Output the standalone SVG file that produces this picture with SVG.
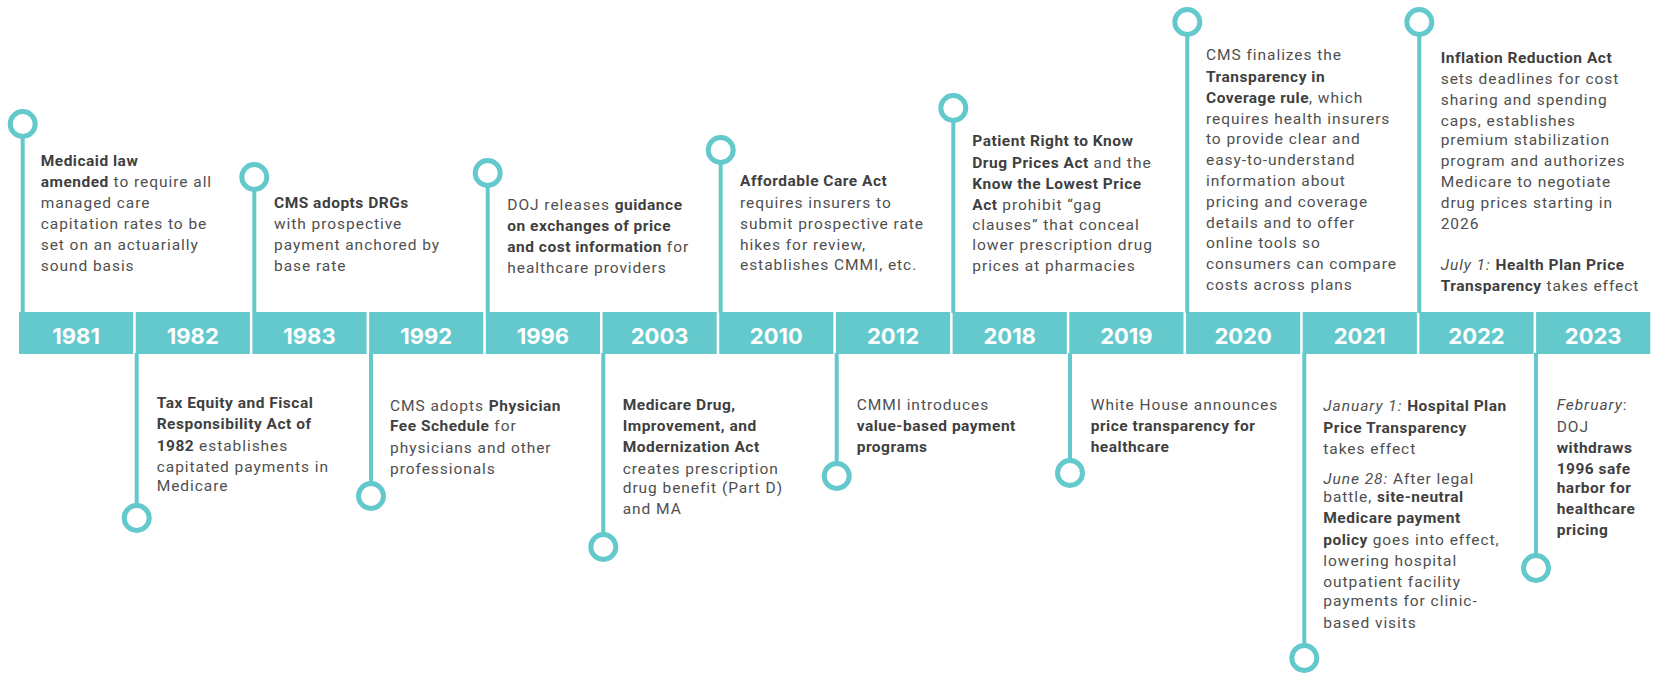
<svg xmlns="http://www.w3.org/2000/svg" width="1657" height="673" viewBox="0 0 1657 673">
<style>
.bar{fill:#64C9CD}
.yr{font-family:Inter,"Open Sans","Liberation Sans",sans-serif;font-weight:700;font-size:22px;fill:#fff;text-anchor:middle}
.t{font-family:Roboto,"Liberation Sans",sans-serif;font-size:15.5px;fill:#4f4f4f;letter-spacing:0.95px}
.b{font-weight:700;fill:#3f3f3f;letter-spacing:0.5px}
.i{font-style:italic}
.ln{stroke:#64C9CD;stroke-width:4;fill:none}
.dot{stroke:#64C9CD;stroke-width:5;fill:#fff}
</style>
<rect width="1657" height="673" fill="#fff"/>
<g id="connectors">
<line class="ln" x1="22.7" y1="124" x2="22.7" y2="313"/>
<line class="ln" x1="136.7" y1="353" x2="136.7" y2="518"/>
<line class="ln" x1="254.3" y1="177" x2="254.3" y2="313"/>
<line class="ln" x1="371" y1="353" x2="371" y2="496"/>
<line class="ln" x1="487.7" y1="173" x2="487.7" y2="313"/>
<line class="ln" x1="603.3" y1="353" x2="603.3" y2="547"/>
<line class="ln" x1="720.7" y1="150" x2="720.7" y2="313"/>
<line class="ln" x1="836.7" y1="353" x2="836.7" y2="476"/>
<line class="ln" x1="953.3" y1="108" x2="953.3" y2="313"/>
<line class="ln" x1="1070" y1="353" x2="1070" y2="473"/>
<line class="ln" x1="1187.3" y1="22" x2="1187.3" y2="313"/>
<line class="ln" x1="1304.3" y1="353" x2="1304.3" y2="658"/>
<line class="ln" x1="1419.3" y1="22" x2="1419.3" y2="313"/>
<line class="ln" x1="1536" y1="353" x2="1536" y2="568"/>
<circle class="dot" cx="22.7" cy="124" r="12.5"/>
<circle class="dot" cx="136.7" cy="518" r="12.5"/>
<circle class="dot" cx="254.3" cy="177" r="12.5"/>
<circle class="dot" cx="371" cy="496" r="12.5"/>
<circle class="dot" cx="487.7" cy="173" r="12.5"/>
<circle class="dot" cx="603.3" cy="547" r="12.5"/>
<circle class="dot" cx="720.7" cy="150" r="12.5"/>
<circle class="dot" cx="836.7" cy="476" r="12.5"/>
<circle class="dot" cx="953.3" cy="108" r="12.5"/>
<circle class="dot" cx="1070" cy="473" r="12.5"/>
<circle class="dot" cx="1187.3" cy="22" r="12.5"/>
<circle class="dot" cx="1304.3" cy="658" r="12.5"/>
<circle class="dot" cx="1419.3" cy="22" r="12.5"/>
<circle class="dot" cx="1536" cy="568" r="12.5"/>
</g>
<g id="timeline">
<rect class="bar" x="19" y="312" width="114.2" height="42"/>
<rect class="bar" x="135.7" y="312" width="114.2" height="42"/>
<rect class="bar" x="252.4" y="312" width="114.2" height="42"/>
<rect class="bar" x="369.1" y="312" width="114.2" height="42"/>
<rect class="bar" x="485.8" y="312" width="114.2" height="42"/>
<rect class="bar" x="602.5" y="312" width="114.2" height="42"/>
<rect class="bar" x="719.2" y="312" width="114.2" height="42"/>
<rect class="bar" x="835.9" y="312" width="114.2" height="42"/>
<rect class="bar" x="952.6" y="312" width="114.2" height="42"/>
<rect class="bar" x="1069.3" y="312" width="114.2" height="42"/>
<rect class="bar" x="1186" y="312" width="114.2" height="42"/>
<rect class="bar" x="1302.7" y="312" width="114.2" height="42"/>
<rect class="bar" x="1419.4" y="312" width="114.2" height="42"/>
<rect class="bar" x="1536.1" y="312" width="114.2" height="42"/>
<text class="yr" x="76.1" y="344">1981</text>
<text class="yr" x="192.8" y="344">1982</text>
<text class="yr" x="309.5" y="344">1983</text>
<text class="yr" x="426.2" y="344">1992</text>
<text class="yr" x="542.9" y="344">1996</text>
<text class="yr" x="659.6" y="344">2003</text>
<text class="yr" x="776.3" y="344">2010</text>
<text class="yr" x="893" y="344">2012</text>
<text class="yr" x="1009.7" y="344">2018</text>
<text class="yr" x="1126.4" y="344">2019</text>
<text class="yr" x="1243.1" y="344">2020</text>
<text class="yr" x="1359.8" y="344">2021</text>
<text class="yr" x="1476.5" y="344">2022</text>
<text class="yr" x="1593.2" y="344">2023</text>
</g>
<g id="e1981">
<text class="t">
<tspan x="40.7" y="166"><tspan class="b">Medicaid law</tspan></tspan>
<tspan x="40.7" y="187"><tspan class="b">amended</tspan> to require all</tspan>
<tspan x="40.7" y="208">managed care</tspan>
<tspan x="40.7" y="229">capitation rates to be</tspan>
<tspan x="40.7" y="250">set on an actuarially</tspan>
<tspan x="40.7" y="271">sound basis</tspan>
</text>
</g>
<g id="e1982">
<text class="t">
<tspan x="156.7" y="408"><tspan class="b">Tax Equity and Fiscal</tspan></tspan>
<tspan x="156.7" y="429"><tspan class="b">Responsibility Act of</tspan></tspan>
<tspan x="156.7" y="450.5"><tspan class="b">1982</tspan> establishes</tspan>
<tspan x="156.7" y="471.5">capitated payments in</tspan>
<tspan x="156.7" y="491">Medicare</tspan>
</text>
</g>
<g id="e1983">
<text class="t">
<tspan x="274" y="208"><tspan class="b">CMS adopts DRGs</tspan></tspan>
<tspan x="274" y="229">with prospective</tspan>
<tspan x="274" y="250">payment anchored by</tspan>
<tspan x="274" y="271">base rate</tspan>
</text>
</g>
<g id="e1992">
<text class="t">
<tspan x="390" y="410.5">CMS adopts <tspan class="b">Physician</tspan></tspan>
<tspan x="390" y="431"><tspan class="b">Fee Schedule</tspan> for</tspan>
<tspan x="390" y="452.5">physicians and other</tspan>
<tspan x="390" y="473.5">professionals</tspan>
</text>
</g>
<g id="e1996">
<text class="t">
<tspan x="507.3" y="209.5">DOJ releases <tspan class="b">guidance</tspan></tspan>
<tspan x="507.3" y="230.5"><tspan class="b">on exchanges of price</tspan></tspan>
<tspan x="507.3" y="251.5"><tspan class="b">and cost information</tspan> for</tspan>
<tspan x="507.3" y="272.5">healthcare providers</tspan>
</text>
</g>
<g id="e2003">
<text class="t">
<tspan x="622.7" y="410"><tspan class="b">Medicare Drug,</tspan></tspan>
<tspan x="622.7" y="431"><tspan class="b">Improvement, and</tspan></tspan>
<tspan x="622.7" y="451.7"><tspan class="b">Modernization Act</tspan></tspan>
<tspan x="622.7" y="473.5">creates prescription</tspan>
<tspan x="622.7" y="493.3">drug benefit (Part D)</tspan>
<tspan x="622.7" y="513.5">and MA</tspan>
</text>
</g>
<g id="e2010">
<text class="t">
<tspan x="740" y="186"><tspan class="b">Affordable Care Act</tspan></tspan>
<tspan x="740" y="207.5">requires insurers to</tspan>
<tspan x="740" y="228.5">submit prospective rate</tspan>
<tspan x="740" y="249.5">hikes for review,</tspan>
<tspan x="740" y="269.5">establishes CMMI, etc.</tspan>
</text>
</g>
<g id="e2012">
<text class="t">
<tspan x="856.7" y="410">CMMI introduces</tspan>
<tspan x="856.7" y="431"><tspan class="b">value-based payment</tspan></tspan>
<tspan x="856.7" y="451.7"><tspan class="b">programs</tspan></tspan>
</text>
</g>
<g id="e2018">
<text class="t">
<tspan x="972.3" y="146"><tspan class="b">Patient Right to Know</tspan></tspan>
<tspan x="972.3" y="167.5"><tspan class="b">Drug Prices Act</tspan> and the</tspan>
<tspan x="972.3" y="189"><tspan class="b">Know the Lowest Price</tspan></tspan>
<tspan x="972.3" y="209.5"><tspan class="b">Act</tspan> prohibit “gag</tspan>
<tspan x="972.3" y="229.5">clauses” that conceal</tspan>
<tspan x="972.3" y="250">lower prescription drug</tspan>
<tspan x="972.3" y="270.5">prices at pharmacies</tspan>
</text>
</g>
<g id="e2019">
<text class="t">
<tspan x="1090.7" y="410">White House announces</tspan>
<tspan x="1090.7" y="431"><tspan class="b">price transparency for</tspan></tspan>
<tspan x="1090.7" y="451.7"><tspan class="b">healthcare</tspan></tspan>
</text>
</g>
<g id="e2020">
<text class="t">
<tspan x="1206" y="60">CMS finalizes the</tspan>
<tspan x="1206" y="81.5"><tspan class="b">Transparency in</tspan></tspan>
<tspan x="1206" y="103"><tspan class="b">Coverage rule</tspan>, which</tspan>
<tspan x="1206" y="124">requires health insurers</tspan>
<tspan x="1206" y="144">to provide clear and</tspan>
<tspan x="1206" y="164.5">easy-to-understand</tspan>
<tspan x="1206" y="185.5">information about</tspan>
<tspan x="1206" y="206.5">pricing and coverage</tspan>
<tspan x="1206" y="227.5">details and to offer</tspan>
<tspan x="1206" y="247.5">online tools so</tspan>
<tspan x="1206" y="268.5">consumers can compare</tspan>
<tspan x="1206" y="289.5">costs across plans</tspan>
</text>
</g>
<g id="e2021">
<text class="t">
<tspan x="1323.3" y="410.7"><tspan class="i">January 1:</tspan> <tspan class="b">Hospital Plan</tspan></tspan>
<tspan x="1323.3" y="433"><tspan class="b">Price Transparency</tspan></tspan>
<tspan x="1323.3" y="454">takes effect</tspan>
<tspan x="1323.3" y="484"><tspan class="i">June 28:</tspan> After legal</tspan>
<tspan x="1323.3" y="502">battle, <tspan class="b">site-neutral</tspan></tspan>
<tspan x="1323.3" y="523"><tspan class="b">Medicare payment</tspan></tspan>
<tspan x="1323.3" y="545"><tspan class="b">policy</tspan> goes into effect,</tspan>
<tspan x="1323.3" y="566">lowering hospital</tspan>
<tspan x="1323.3" y="587">outpatient facility</tspan>
<tspan x="1323.3" y="606">payments for clinic-</tspan>
<tspan x="1323.3" y="627.5">based visits</tspan>
</text>
</g>
<g id="e2022">
<text class="t">
<tspan x="1440.7" y="62.5"><tspan class="b">Inflation Reduction Act</tspan></tspan>
<tspan x="1440.7" y="83.5">sets deadlines for cost</tspan>
<tspan x="1440.7" y="104.5">sharing and spending</tspan>
<tspan x="1440.7" y="125.5">caps, establishes</tspan>
<tspan x="1440.7" y="145">premium stabilization</tspan>
<tspan x="1440.7" y="166">program and authorizes</tspan>
<tspan x="1440.7" y="187">Medicare to negotiate</tspan>
<tspan x="1440.7" y="208">drug prices starting in</tspan>
<tspan x="1440.7" y="229">2026</tspan>
<tspan x="1440.7" y="270"><tspan class="i">July 1:</tspan> <tspan class="b">Health Plan Price</tspan></tspan>
<tspan x="1440.7" y="291"><tspan class="b">Transparency</tspan> takes effect</tspan>
</text>
</g>
<g id="e2023">
<text class="t">
<tspan x="1556.7" y="410"><tspan class="i">February</tspan>:</tspan>
<tspan x="1556.7" y="431.5">DOJ</tspan>
<tspan x="1556.7" y="452.7"><tspan class="b">withdraws</tspan></tspan>
<tspan x="1556.7" y="473.5"><tspan class="b">1996 safe</tspan></tspan>
<tspan x="1556.7" y="493"><tspan class="b">harbor for</tspan></tspan>
<tspan x="1556.7" y="513.5"><tspan class="b">healthcare</tspan></tspan>
<tspan x="1556.7" y="535"><tspan class="b">pricing</tspan></tspan>
</text>
</g>
</svg>
